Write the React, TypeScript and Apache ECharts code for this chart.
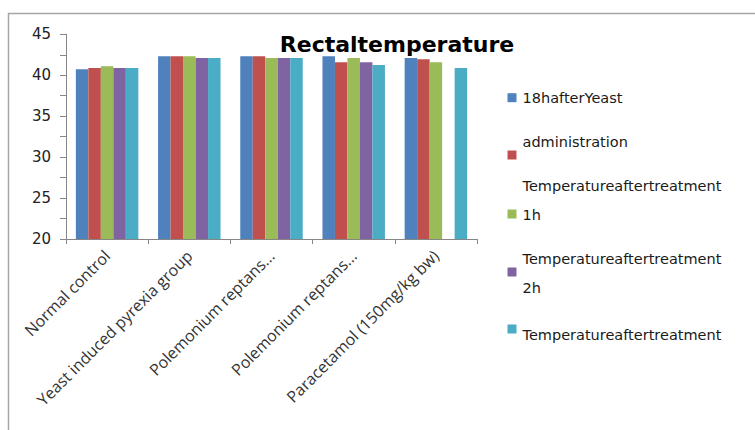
import { useEffect, useRef } from "react";
import * as echarts from "echarts";

// Treatment groups along the x axis
const categories = [
  "Normal control",
  "Yeast induced pyrexia group",
  "Polemonium reptans...",
  "Polemonium reptans...",
  "Paracetamol (150mg/kg bw)",
];

// Y axis range and tick step
const yMin = 20;
const yMax = 45;
const yStep = 2.5;

// Rectal temperature readings (°C) per measurement time
const seriesNames = [
  "18hafterYeast administration",
  "Temperatureaftertreatment 1h",
  "Temperatureaftertreatment 2h",
  "Temperatureaftertreatment 3h",
  "Temperatureaftertreatment 4h",
];
const s1 = [40.72, 42.31, 42.31, 42.31, 42.11];
const s2 = [40.89, 42.31, 42.31, 41.58, 41.94];
const s3 = [41.09, 42.31, 42.11, 42.11, 41.58];
const s4 = [40.89, 42.11, 42.11, 41.58, null];
const s5 = [40.89, 42.11, 42.11, 41.25, 40.89];
const seriesValues = [s1, s2, s3, s4, s5];

const colors = ["#4F81BD", "#C0504D", "#9BBB59", "#8064A2", "#4BACC6"];

// Legend text lines, wrapped as they appear beside each swatch
const legendLines = [
  ["18hafterYeast"],
  ["administration", "Temperatureaftertreatment"],
  ["1h"],
  ["Temperatureaftertreatment", "2h"],
  ["Temperatureaftertreatment"],
];

const title = "Rectaltemperature";

// Legend layout: swatch centre y and text-line centre y for each entry
const legendLayout = [
  { swatchY: 97.7, lineY: [98] },
  { swatchY: 155, lineY: [142, 186] },
  { swatchY: 214, lineY: [215] },
  { swatchY: 272, lineY: [259, 288] },
  { swatchY: 329, lineY: [335] },
];

export default function App() {
  const ref = useRef<HTMLDivElement>(null);

  useEffect(() => {
    if (!ref.current) return;
    const chart = echarts.init(ref.current, null, { renderer: "svg" });

    const legendGraphics: any[] = [];
    legendLayout.forEach((item, i) => {
      legendGraphics.push({
        type: "rect",
        shape: { x: 507.5, y: item.swatchY - 4.5, width: 9, height: 9 },
        style: { fill: colors[i] },
        silent: true,
      });
      item.lineY.forEach((ly, j) => {
        legendGraphics.push({
          type: "text",
          x: 522.5,
          y: ly,
          style: {
            text: legendLines[i][j],
            fontFamily: "DejaVu Sans",
            fontSize: 14.5,
            fill: "#1a1a1a",
            verticalAlign: "middle",
            align: "left",
          },
          silent: true,
        });
      });
    });

    chart.setOption({
      animation: false,
      backgroundColor: "#ffffff",
      grid: { left: 66, right: 278, top: 34.3, bottom: 191, containLabel: false },
      xAxis: {
        type: "category",
        data: categories,
        axisLine: { lineStyle: { color: "#868686", width: 1 } },
        axisTick: { show: true, length: 5, alignWithLabel: false, lineStyle: { color: "#868686" } },
        axisLabel: {
          rotate: 45,
          interval: 0,
          margin: 14,
          fontFamily: "Open Sans",
          fontSize: 16,
          color: "#333333",
        },
      },
      yAxis: {
        type: "value",
        min: yMin,
        max: yMax,
        interval: yStep,
        splitLine: { show: false },
        axisLine: { show: true, lineStyle: { color: "#868686", width: 1 } },
        axisTick: { show: true, length: 6, lineStyle: { color: "#868686" } },
        axisLabel: {
          margin: 15,
          fontFamily: "DejaVu Sans",
          fontSize: 15,
          color: "#222222",
          formatter: (v: number) => (v % 5 === 0 ? String(v) : ""),
        },
      },
      series: seriesValues.map((vals, i) => ({
        name: seriesNames[i],
        type: "bar",
        data: vals,
        barGap: "0%",
        barCategoryGap: "24%",
        itemStyle: { color: colors[i] },
      })),
      graphic: [
        {
          type: "rect",
          shape: { x: 8.5, y: 13.5, width: 2000, height: 2000 },
          style: { fill: "none", stroke: "#a6a6a6", lineWidth: 1.5 },
          silent: true,
          z: -10,
        },
        {
          type: "text",
          x: 397,
          y: 44,
          style: {
            text: title,
            fontFamily: "DejaVu Sans",
            fontWeight: "bold",
            fontSize: 22,
            fill: "#000000",
            align: "center",
            verticalAlign: "middle",
          },
          silent: true,
        },
        ...legendGraphics,
      ],
    });

    return () => chart.dispose();
  }, []);

  return (
    <div
      ref={ref}
      style={{ position: "fixed", left: 0, top: 0, width: 755, height: 430 }}
    />
  );
}
